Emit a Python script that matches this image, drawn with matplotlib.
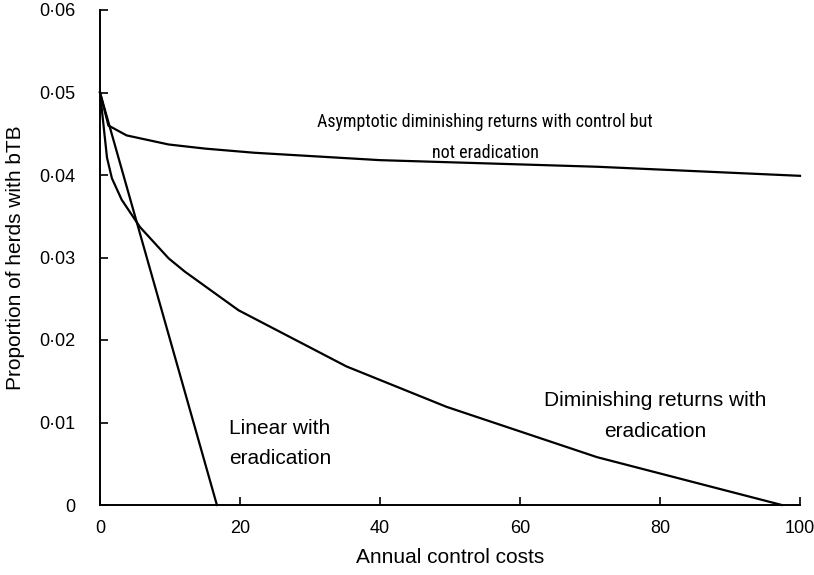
import matplotlib
matplotlib.use("Agg")
import matplotlib.pyplot as plt
from matplotlib.ticker import FixedLocator, FixedFormatter

plt.rcParams['font.family'] = ['Liberation Sans', 'DejaVu Sans']
NARROW = ['Roboto Condensed', 'Liberation Sans Narrow', 'Archivo Narrow', 'Liberation Sans']

# Data
asym_x = [0, 1.2, 3.8, 9.8, 15, 22, 40, 71, 100]
asym_y = [0.050, 0.0460, 0.0448, 0.0437, 0.0432, 0.0427, 0.0418, 0.0410, 0.0399]

dim_x = [0, 1, 1.7, 3.1, 5.7, 9.8, 12.1, 19.8, 35.2, 49.5, 71, 97.4]
dim_y = [0.050, 0.0421, 0.0396, 0.0370, 0.0337, 0.0299, 0.0283, 0.0236, 0.0168, 0.0119, 0.0058, 0.0]

lin_x = [0, 16.7]
lin_y = [0.050, 0.0]

y_ticks = [0, 0.01, 0.02, 0.03, 0.04, 0.05, 0.06]
y_tick_labels = ['0', '0·01', '0·02', '0·03', '0·04', '0·05', '0·06']
x_ticks = [0, 20, 40, 60, 80, 100]
x_tick_labels = ['0', '20', '40', '60', '80', '100']

fig = plt.figure(figsize=(8.14, 5.75), dpi=100)
ax = fig.add_axes([100/814, 70/575, 700/814, 495/575])

for xs, ys in [(asym_x, asym_y), (dim_x, dim_y), (lin_x, lin_y)]:
    ax.plot(xs, ys, color='black', lw=1.6, solid_joinstyle='miter', clip_on=False)

ax.set_xlim(0, 100)
ax.set_ylim(0, 0.06)
ax.xaxis.set_major_locator(FixedLocator(x_ticks))
ax.xaxis.set_major_formatter(FixedFormatter(x_tick_labels))
ax.yaxis.set_major_locator(FixedLocator(y_ticks))
ax.yaxis.set_major_formatter(FixedFormatter(y_tick_labels))
ax.tick_params(direction='in', length=6, width=1.2, labelsize=13)
ax.tick_params(axis='y', pad=18)
ax.tick_params(axis='x', pad=11)
for s in ['top', 'right']:
    ax.spines[s].set_visible(False)
for s in ['left', 'bottom']:
    ax.spines[s].set_linewidth(1.4)

ax.set_xlabel('Annual control costs', fontsize=15, labelpad=8)
ax.set_ylabel('Proportion of herds with bTB', fontsize=15, labelpad=10)

fs = 15
ax.text(55.0, 0.04455, 'Asymptotic diminishing returns with control but\nnot eradication',
        ha='center', va='center', fontsize=13, linespacing=1.95, family=NARROW)
ax.text(25.7, 0.00745, 'Linear with\neradication', ha='center', va='center', fontsize=fs, linespacing=1.75)
ax.text(79.3, 0.0108, 'Diminishing returns with\neradication', ha='center', va='center', fontsize=fs, linespacing=1.75)

fig.savefig('out.png', dpi=100)
